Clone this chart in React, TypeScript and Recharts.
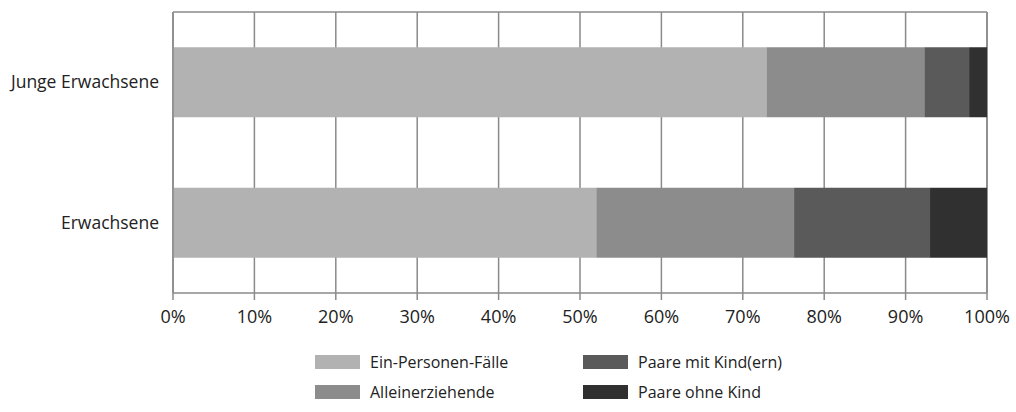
import React from 'react';
import { BarChart, Bar, XAxis, YAxis, CartesianGrid, Legend } from 'recharts';

const categories = ['Junge Erwachsene', 'Erwachsene'];
const einPersonen = [72.9, 52.0];
const alleinerziehende = [19.4, 24.3];
const paareMitKind = [5.5, 16.7];
const paareOhneKind = [2.2, 7.0];
const xTicks = [0, 10, 20, 30, 40, 50, 60, 70, 80, 90, 100];

const seriesDefs = [
  { key: 'ein', name: 'Ein-Personen-Fälle', color: '#b2b2b2', values: einPersonen },
  { key: 'allein', name: 'Alleinerziehende', color: '#8c8c8c', values: alleinerziehende },
  { key: 'mit', name: 'Paare mit Kind(ern)', color: '#5a5a5a', values: paareMitKind },
  { key: 'ohne', name: 'Paare ohne Kind', color: '#303030', values: paareOhneKind },
];

const data = categories.map((c, i) => {
  const row: Record<string, any> = { category: c };
  seriesDefs.forEach((s) => {
    row[s.key] = s.values[i];
  });
  return row;
});

const FONT = '"Open Sans", sans-serif';
const GRID = '#8a8a8a';

const LegendContent = () => {
  const cols = [
    [seriesDefs[0], seriesDefs[1]],
    [seriesDefs[2], seriesDefs[3]],
  ];
  return (
    <div style={{ position: 'relative', width: 1016, height: 60, fontFamily: FONT, fontSize: 16, color: '#222' }}>
      {cols.map((col, ci) =>
        col.map((s, ri) => (
          <div
            key={s.key}
            style={{
              position: 'absolute',
              left: ci === 0 ? 315 : 583,
              top: ri * 30,
              display: 'flex',
              alignItems: 'center',
              height: 14,
            }}
          >
            <div style={{ width: 45, height: 14, background: s.color }} />
            <span style={{ marginLeft: 10, whiteSpace: 'nowrap', lineHeight: '14px' }}>{s.name}</span>
          </div>
        ))
      )}
    </div>
  );
};

export default function App() {
  return (
    <div style={{ position: 'absolute', left: 0, top: 0, width: 1016, height: 412, background: '#fff' }}>
      <BarChart
        width={1016}
        height={412}
        data={data}
        layout="vertical"
        margin={{ top: 10, right: 29, bottom: 79, left: 0 }}
        barCategoryGap="25%"
      >
        <CartesianGrid horizontal={false} vertical={true} stroke={GRID} strokeWidth={1.5} />
        <XAxis
          xAxisId="top"
          type="number"
          orientation="top"
          domain={[0, 100]}
          ticks={xTicks}
          height={2}
          tick={false}
          tickLine={false}
          axisLine={{ stroke: GRID, strokeWidth: 1.5 }}
        />
        <XAxis
          type="number"
          domain={[0, 100]}
          ticks={xTicks}
          tickFormatter={(v) => `${v}%`}
          height={40}
          axisLine={{ stroke: GRID, strokeWidth: 1.5 }}
          tickLine={{ stroke: GRID, strokeWidth: 1.5 }}
          tickSize={7}
          tick={{ fill: '#222', fontSize: 18, fontFamily: FONT, dy: 8 }}
          interval={0}
        />
        <YAxis
          type="category"
          dataKey="category"
          width={173}
          axisLine={{ stroke: GRID, strokeWidth: 1.5 }}
          tickLine={false}
          tick={{ fill: '#222', fontSize: 17.5, fontFamily: FONT }}
          tickMargin={8}
        />
        <Legend
          layout="vertical"
          align="center"
          verticalAlign="middle"
          wrapperStyle={{ top: 355, left: 0, width: 1016 }}
          content={<LegendContent />}
        />
        {seriesDefs.map((s) => (
          <Bar key={s.key} dataKey={s.key} name={s.name} stackId="a" fill={s.color} isAnimationActive={false} />
        ))}
      </BarChart>
    </div>
  );
}
